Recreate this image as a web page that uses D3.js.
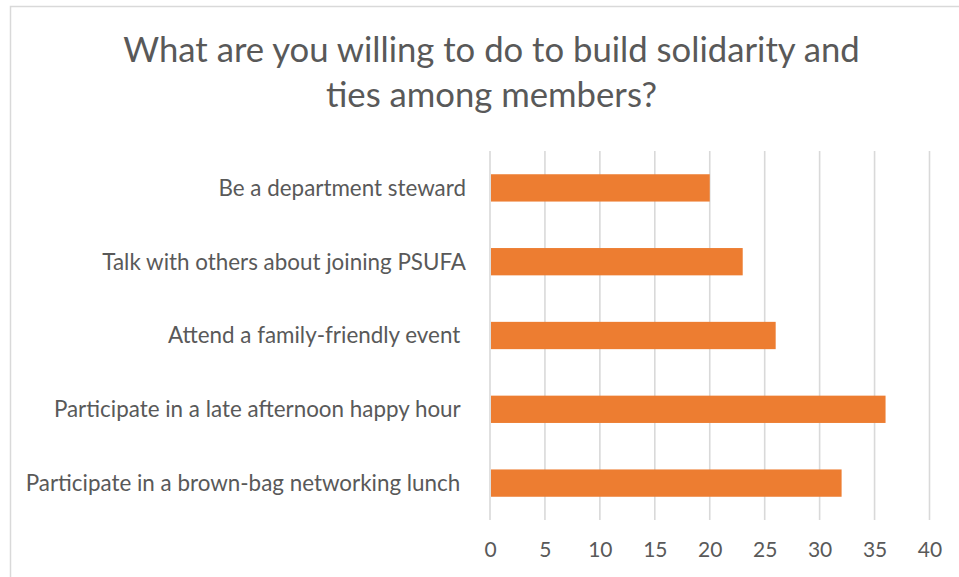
<!DOCTYPE html>
<html>
<head>
<meta charset="utf-8">
<script src="https://cdn.jsdelivr.net/npm/d3@7"></script>
<style>
  body { margin: 0; background: #fff; }
  text { font-family: Lato, "Open Sans", sans-serif; fill: #595959; white-space: pre; }
</style>
</head>
<body>
<div id="d3-container"></div>
<script>
/**
 * CONSTANTS AND DATA
 * */
const width = 959,
  height = 577,
  margin = { top: 151, bottom: 57, left: 490, right: 29.5 };

const titleLines = ["What are you willing to do to build solidarity and", "ties among members?"];
const categories = [
  "Be a department steward",
  "Talk with others about joining PSUFA",
  "Attend a family-friendly event ",
  "Participate in a late afternoon happy hour ",
  "Participate in a brown-bag networking lunch "
];
const values = [20, 23, 26, 36, 32];
const xTicks = [0, 5, 10, 15, 20, 25, 30, 35, 40];

const svg = d3.select("#d3-container")
  .append("svg")
  .attr("width", width)
  .attr("height", height);

// chart frame (only top and left edges are visible in the crop)
svg.append("rect")
  .attr("x", 10.5).attr("y", 6.5)
  .attr("width", 1000).attr("height", 1000)
  .attr("fill", "none")
  .attr("stroke", "#d9d9d9")
  .attr("stroke-width", 1.5);

// title
svg.append("text")
  .attr("text-anchor", "middle")
  .attr("font-size", 34.7)
  .selectAll("tspan")
  .data(titleLines)
  .join("tspan")
  .attr("x", 491.5)
  .attr("y", (d, i) => 61.5 + i * 45.5)
  .text(d => d);

const x = d3.scaleLinear()
  .domain([0, 40])
  .range([margin.left, width - margin.right]);

const y = d3.scaleBand()
  .domain(categories)
  .range([margin.top, height - margin.bottom])
  .paddingInner(0.63)
  .paddingOuter(0.315);

// gridlines
svg.append("g")
  .selectAll("line")
  .data(xTicks)
  .join("line")
  .attr("x1", d => x(d)).attr("x2", d => x(d))
  .attr("y1", margin.top).attr("y2", height - margin.bottom)
  .attr("stroke", "#d9d9d9")
  .attr("stroke-width", 1.6);

// bars
svg.append("g")
  .selectAll("rect")
  .data(values)
  .join("rect")
  .attr("x", x(0) + 1)
  .attr("y", (d, i) => y(categories[i]))
  .attr("width", d => x(d) - x(0) - 1)
  .attr("height", y.bandwidth())
  .attr("fill", "#ed7d31");

// category labels
svg.append("g")
  .selectAll("text")
  .data(categories)
  .join("text")
  .attr("x", 466)
  .attr("y", d => y(d) + y.bandwidth() / 2)
  .attr("dy", "0.35em")
  .attr("text-anchor", "end")
  .attr("font-size", 22.4)
  .text(d => d);

// x axis labels
const xAxis = d3.axisBottom(x).tickValues(xTicks).tickSize(0).tickPadding(0);
const gx = svg.append("g")
  .attr("transform", `translate(0, ${height - margin.bottom + 22.5})`)
  .call(xAxis);
gx.select(".domain").remove();
gx.selectAll("text")
  .attr("font-size", 21)
  .attr("font-family", "Lato, Open Sans, sans-serif")
  .attr("fill", "#595959")
  .attr("dy", "0.71em");
</script>
</body>
</html>
